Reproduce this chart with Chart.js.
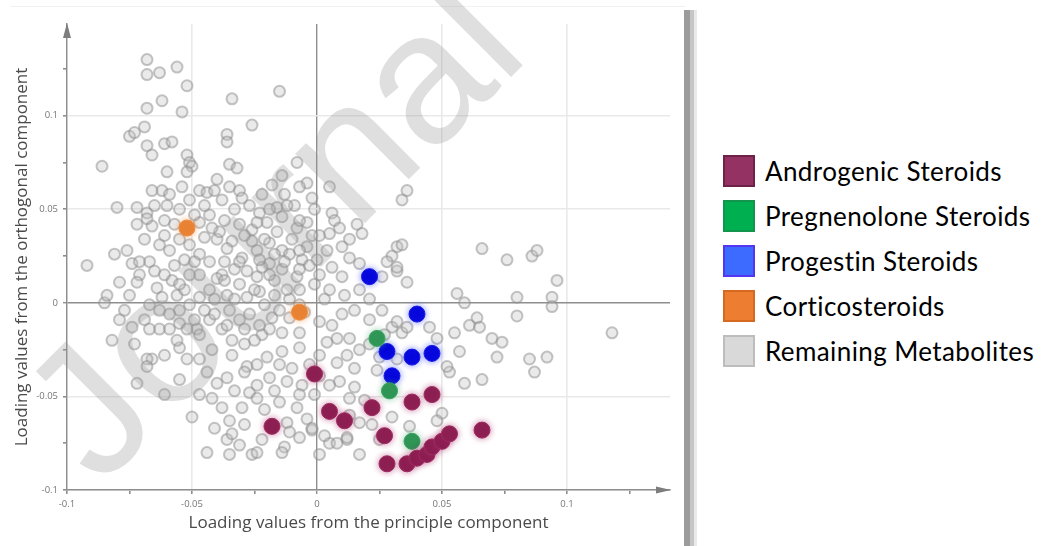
<!DOCTYPE html>
<html>
<head>
<meta charset="utf-8">
<script src="https://cdn.jsdelivr.net/npm/chart.js@4.4.1/dist/chart.umd.min.js"></script>
<style>
  html, body { margin: 0; padding: 0; background: #fff; width: 1044px; height: 546px; overflow: hidden; }
  #plot { position: absolute; left: 0; top: 0; width: 700px; height: 546px; filter: blur(0.7px); }
  #topline { position: absolute; left: 10px; top: 6px; width: 675px; height: 1px; background: #f1f1f1; }
  .bar { position: absolute; top: 10px; bottom: 0; }
  #legend { position: absolute; left: 723px; top: 155px; font-family: Lato, "Open Sans", sans-serif; font-size: 26px; letter-spacing: 0.4px; color: #000; }
  .item { display: flex; align-items: center; height: 32px; margin-bottom: 13px; white-space: nowrap; }
  .sw { width: 28px; height: 28px; border: 2px solid; margin-right: 10px; flex: none; }
</style>
</head>
<body>
<div id="topline"></div>
<div id="plot"><canvas id="c" width="700" height="546"></canvas></div>
<div class="bar" style="left:684px;width:6px;background:#9c9c9c"></div>
<div class="bar" style="left:690px;width:4px;background:#c6c6c6"></div>
<div class="bar" style="left:694px;width:3px;background:#e9e9e9"></div>
<div id="legend"></div>
<script>
// Loadings: [principle component, orthogonal component]
const androgenic = [
  [-0.001,-0.038],[-0.018,-0.066],[0.005,-0.058],[0.011,-0.063],[0.022,-0.056],[0.027,-0.071],
  [0.028,-0.086],[0.038,-0.053],[0.046,-0.049],[0.036,-0.086],[0.040,-0.083],[0.044,-0.081],
  [0.046,-0.077],[0.050,-0.074],[0.053,-0.070],[0.066,-0.068]
];
const pregnenolone = [[0.024,-0.019],[0.029,-0.047],[0.038,-0.074]];
const progestin = [[0.021,0.014],[0.040,-0.006],[0.028,-0.026],[0.038,-0.029],[0.046,-0.027],[0.030,-0.039]];
const corticosteroids = [[-0.052,0.040],[-0.007,-0.005]];
const remaining = [
  [-0.068,0.130],[-0.068,0.122],[-0.063,0.123],[-0.056,0.126],[-0.052,0.116],[-0.034,0.109],[-0.015,0.113],[-0.062,0.108],[-0.068,0.104],[-0.054,0.102],
  [-0.026,0.095],[-0.036,0.090],[-0.036,0.086],[-0.075,0.089],[-0.073,0.091],[-0.069,0.094],[-0.068,0.084],[-0.061,0.085],[-0.058,0.086],[-0.066,0.079],
  [-0.052,0.079],[-0.051,0.075],[-0.050,0.073],[-0.086,0.073],[-0.035,0.074],[-0.032,0.072],[-0.060,0.070],[-0.052,0.070],[-0.040,0.066],[-0.062,0.060],
  [-0.054,0.062],[-0.080,0.051],[-0.072,0.051],[-0.068,0.048],[-0.066,0.041],[-0.069,0.034],[-0.092,0.020],[-0.074,0.021],[-0.047,0.060],[-0.044,0.059],
  [-0.035,0.062],[-0.031,0.060],[-0.030,0.056],[-0.066,0.060],[0.036,0.060],[0.034,0.055],[-0.014,0.068],[-0.008,0.075],[-0.004,0.064],[0.005,0.062],
  [-0.002,0.056],[-0.007,0.062],[-0.016,0.051],[-0.023,0.048],[-0.020,0.043],[-0.014,0.046],[-0.004,0.043],[-0.008,0.040],[0.006,0.048],[0.007,0.044],
  [0.016,0.042],[0.018,0.037],[0.009,0.040],[0.013,0.034],[0.005,0.037],[0.032,0.030],[0.030,0.025],[0.028,0.022],[0.013,0.024],[0.017,0.021],
  [0.004,0.028],[0.000,0.023],[0.006,0.019],[0.010,0.014],[0.026,0.014],[0.032,0.017],[0.036,0.011],[-0.024,0.028],[-0.019,0.032],[-0.014,0.028],
  [-0.010,0.034],[-0.004,0.030],[-0.006,0.023],[-0.019,0.021],[-0.014,0.018],[-0.008,0.014],[-0.024,0.014],[0.010,0.030],[0.034,0.031],[0.032,0.019],
  [0.066,0.029],[0.076,0.023],[0.086,0.025],[0.088,0.028],[0.096,0.012],[0.056,0.005],[0.059,0.000],[0.080,0.003],[0.094,0.003],[0.094,-0.002],
  [0.064,-0.008],[0.061,-0.012],[0.065,-0.013],[0.080,-0.007],[0.055,-0.016],[0.070,-0.019],[0.074,-0.021],[0.057,-0.026],[0.072,-0.029],[0.085,-0.030],
  [0.092,-0.029],[0.087,-0.037],[0.053,-0.037],[0.059,-0.043],[0.066,-0.041],[0.118,-0.016],[0.052,-0.034],[0.050,-0.059],[0.048,-0.063],[0.030,-0.061],
  [0.037,-0.066],[0.012,-0.073],
  [-0.085,0.000],[-0.084,0.004],[-0.072,-0.043],[-0.066,-0.030],[-0.050,-0.061],[-0.044,-0.080],[-0.036,-0.073],[-0.034,-0.070],[-0.026,-0.081],[-0.013,-0.077],
  [-0.002,-0.068],[0.005,-0.075],[0.008,-0.075],[-0.055,-0.024],[-0.048,-0.014],[-0.068,-0.030],[-0.068,-0.034],[-0.052,-0.030],[-0.038,-0.056],[-0.030,-0.056],
  [-0.042,-0.051],[-0.028,-0.034],[-0.029,-0.037],[-0.036,-0.040],[-0.027,-0.048],[-0.040,-0.043],[-0.044,-0.037],[-0.063,-0.014],[-0.056,-0.020],[-0.074,-0.013],
  [-0.055,-0.011],[-0.042,-0.025],[-0.047,-0.017],
  [-0.068,0.045],[-0.040,0.034],[-0.039,0.038],[-0.047,0.043],[-0.043,0.047],[-0.067,0.022],[-0.065,0.017],[-0.071,0.015],[-0.072,0.011],[-0.075,0.004],
  [-0.064,0.008],[-0.062,0.003],[-0.056,0.004],[-0.034,0.033],[-0.030,0.024],[-0.026,0.033],[-0.028,0.017],[-0.031,0.010],[-0.038,0.015],[-0.040,0.013],
  [-0.036,0.004],[-0.028,0.003],[-0.047,0.015],
  [-0.023,0.006],[-0.018,-0.008],[-0.022,-0.017],[-0.014,-0.016],[-0.007,-0.016],[0.001,-0.010],[0.006,-0.012],[0.010,-0.006],[0.008,-0.019],[0.013,-0.019],
  [0.004,-0.021],[-0.007,-0.024],[-0.014,-0.026],[-0.020,-0.029],[-0.015,-0.033],[-0.010,-0.035],[0.008,-0.032],[0.015,-0.035],[0.009,-0.042],[0.005,-0.044],
  [-0.006,-0.044],[-0.012,-0.042],[-0.019,-0.040],[-0.024,-0.044],[-0.024,-0.051],[-0.015,-0.053],[-0.008,-0.056],[-0.004,-0.062],[-0.012,-0.064],[-0.002,-0.067],
  [-0.011,-0.069],[-0.007,-0.072],[0.003,-0.071],[0.012,-0.072],[0.017,-0.064],[0.019,-0.052],[0.013,-0.051],[0.015,-0.045],[0.024,-0.036],[0.025,-0.029],
  [0.032,-0.030],[0.034,-0.016],[0.030,-0.013],[0.036,-0.013],[0.032,-0.010],[0.045,-0.013],[0.048,-0.019],[-0.024,-0.080],[-0.014,-0.080],
  [-0.051,0.055],[-0.045,0.052],[-0.038,0.055],[-0.033,0.050],[-0.027,0.052],[-0.022,0.058],[-0.018,0.063],[-0.013,0.058],[-0.009,0.052],[-0.001,0.050],
  [0.001,0.036],[-0.003,0.020],[-0.007,0.007],[-0.001,0.010],[0.003,0.002],[-0.011,0.002],[-0.017,0.004],[-0.021,-0.001],[-0.027,-0.006],[-0.031,-0.009],
  [-0.035,-0.004],[-0.041,0.002],[-0.045,-0.004],[-0.051,-0.001],[-0.053,0.007],[-0.051,0.015],[-0.053,0.023],[-0.047,0.026],[-0.043,0.022],[-0.037,0.022],
  [-0.033,0.018],[-0.022,0.019],[-0.017,0.012],[-0.012,0.007],[-0.005,-0.005],[-0.011,-0.008],[-0.019,-0.014],[-0.025,-0.020],[-0.029,-0.022],[-0.034,-0.020],
  [-0.038,-0.014],[-0.043,-0.009],[-0.049,-0.009],[-0.055,-0.004],[-0.059,-0.006],[-0.063,-0.004],[-0.067,-0.001],[-0.069,-0.009],[-0.077,-0.004],[-0.079,0.011],
  [-0.081,0.026],[-0.063,0.031],[-0.059,0.028],[-0.057,0.020],[-0.058,0.012],[-0.051,0.031],[-0.045,0.035],[-0.052,0.039],[-0.057,0.042],[-0.061,0.036],
  [-0.055,0.050],[-0.060,0.052],[-0.041,0.060],[-0.037,0.044],[-0.031,0.042],[-0.026,0.039],[-0.021,0.034],[-0.016,0.038],[-0.011,0.026],[-0.007,0.018],
  [0.001,0.015],[0.005,0.007],[0.011,0.004],[0.017,0.007],[0.021,0.002],[0.015,-0.004],[0.021,-0.009],[0.026,-0.004],[0.027,-0.017],[0.021,-0.022],
  [0.017,-0.025],[0.012,-0.028],[0.001,-0.028],[-0.003,-0.033],[0.001,-0.039],[-0.001,-0.049],[-0.007,-0.049],[-0.017,-0.047],[-0.021,-0.057],[-0.018,-0.065],
  [-0.029,-0.065],[-0.035,-0.063],[-0.022,-0.073],[-0.031,-0.076],[0.013,-0.060],[0.022,-0.065],[0.025,-0.073],[0.017,-0.081],[0.001,-0.081],
  [-0.059,0.058],[-0.049,0.047],[-0.042,0.040],[-0.036,0.029],[-0.029,0.036],[-0.024,0.043],[-0.019,0.050],[-0.012,0.052],[-0.007,0.044],[-0.017,0.026],
  [-0.023,0.023],[-0.031,0.022],[-0.037,0.012],[-0.043,0.007],[-0.049,0.022],[-0.055,0.034],[-0.061,0.044],[-0.065,0.052],[-0.072,0.042],[-0.076,0.028],
  [-0.071,0.022],[-0.061,0.015],[-0.055,0.010],[-0.047,0.003],[-0.041,-0.006],[-0.033,0.002],[-0.025,0.007],[-0.019,0.015],[-0.013,0.022],[-0.007,0.028],
  [-0.002,0.036],[-0.007,-0.001],[-0.015,-0.004],[-0.023,-0.012],[-0.029,-0.014],[-0.036,-0.012],[-0.052,-0.014],[-0.059,-0.014],[-0.067,-0.014],[-0.079,-0.009],
  [-0.082,-0.020],[-0.073,-0.022],[-0.061,-0.028],[-0.047,-0.030],[-0.034,-0.028],[-0.024,-0.033],[-0.033,-0.047],[-0.047,-0.049],[-0.055,-0.041],[-0.061,-0.049],
  [-0.041,-0.067],[-0.035,-0.081]
];

const seriesNames = ['Androgenic Steroids', 'Pregnenolone Steroids', 'Progestin Steroids', 'Corticosteroids', 'Remaining Metabolites'];
const xTitle = 'Loading values from the principle component';
const yTitle = 'Loading values from the orthogonal component';
const xRange = [-0.1, 0.1412];
const yRange = [-0.1, 0.149];
const tickStep = 0.025;
const labelStep = 0.05;
const watermark = 'Journal';

const toPts = arr => arr.map(([x, y]) => ({ x, y }));

// point style, legend swatch fill / border for each series
const styles = [
  { point: '#8c1f52', edge: '#9b2d60', glow: 'rgba(170,40,100,0.55)', swatch: '#943263', swatchEdge: '#6e2248', r: 8 },
  { point: '#2f9656', edge: '#3aa062', glow: 'rgba(60,170,100,0.5)', swatch: '#00b050', swatchEdge: '#13954d', r: 8 },
  { point: '#0606dc', edge: '#1a1ae6', glow: 'rgba(40,60,255,0.55)', swatch: '#3d6bff', swatchEdge: '#5536f0', r: 8 },
  { point: '#e98233', edge: '#ef8c40', glow: 'rgba(240,140,60,0.55)', swatch: '#ed7d31', swatchEdge: '#d4691f', r: 8 },
  { point: 'rgba(190,190,190,0.33)', edge: 'rgba(140,140,140,0.5)', glow: null, swatch: '#d9d9d9', swatchEdge: '#bdbdbd', r: 5.5 }
];
const seriesData = [androgenic, pregnenolone, progestin, corticosteroids, remaining];

const datasets = seriesData.map((d, i) => ({
  label: seriesNames[i],
  data: toPts(d),
  backgroundColor: styles[i].point,
  borderColor: styles[i].edge,
  borderWidth: i === 4 ? 2 : 1,
  pointRadius: styles[i].r,
  glow: styles[i].glow
}));

// legend
const legend = document.getElementById('legend');
seriesNames.forEach((name, i) => {
  const row = document.createElement('div');
  row.className = 'item';
  const sw = document.createElement('div');
  sw.className = 'sw';
  sw.style.background = styles[i].swatch;
  sw.style.borderColor = styles[i].swatchEdge;
  const t = document.createElement('span');
  t.textContent = name;
  row.appendChild(sw); row.appendChild(t);
  legend.appendChild(row);
});

const isMultiple = (v, step) => Math.abs(v / step - Math.round(v / step)) < 1e-6;
const fmt = v => (Math.abs(v) < 1e-9 ? '0' : String(+v.toFixed(3)));
const AXIS = '#8e8e8e';

const gridFor = () => ({
  color: c => {
    const v = c.tick ? c.tick.value : NaN;
    if (Math.abs(v) < 1e-9) return AXIS;
    if (isMultiple(v, labelStep)) return '#e9e9e9';
    return 'rgba(0,0,0,0)';
  },
  lineWidth: c => (c.tick && Math.abs(c.tick.value) < 1e-9 ? 1.4 : 1.6),
  tickColor: AXIS,
  tickLength: 4,
  drawTicks: true
});

const decor = {
  id: 'decor',
  beforeDatasetDraw(chart, args) {
    const ds = chart.data.datasets[args.index];
    if (ds.glow) { const c = chart.ctx; c.save(); c.shadowColor = ds.glow; c.shadowBlur = 6; }
  },
  afterDatasetDraw(chart, args) {
    if (chart.data.datasets[args.index].glow) chart.ctx.restore();
  },
  afterDatasetsDraw(chart) {
    const c = chart.ctx;
    c.save();
    c.translate(100, 488);
    c.rotate(-Math.PI / 4);
    c.font = '186px "Liberation Sans", Arial, sans-serif';
    c.fillStyle = 'rgba(150,150,150,0.3)';
    c.fillText(watermark, 0, 0);
    c.restore();
  },
  afterDraw(chart) {
    const c = chart.ctx;
    const { left, top, right, bottom } = chart.chartArea;
    c.save();
    c.fillStyle = '#7d7d7d';
    c.beginPath(); c.moveTo(left, top - 1); c.lineTo(left - 4, top + 14); c.lineTo(left + 4, top + 14); c.closePath(); c.fill();
    c.beginPath(); c.moveTo(right + 1, bottom); c.lineTo(right - 14, bottom - 3.5); c.lineTo(right - 14, bottom + 3.5); c.closePath(); c.fill();
    c.restore();
  }
};

new Chart(document.getElementById('c'), {
  type: 'scatter',
  data: { datasets },
  plugins: [decor],
  options: {
    responsive: false,
    animation: false,
    events: [],
    layout: { padding: { top: 24, right: 30, bottom: 0, left: 0 } },
    plugins: { legend: { display: false }, tooltip: { enabled: false } },
    scales: {
      x: {
        type: 'linear', min: xRange[0], max: xRange[1],
        afterFit: s => { s.height = 56; },
        border: { display: true, color: AXIS, width: 1.4 },
        grid: gridFor(),
        ticks: {
          stepSize: tickStep, includeBounds: false, autoSkip: false, maxRotation: 0,
          padding: 5, color: '#767676', font: { family: 'Open Sans', size: 9.5 },
          callback: v => (isMultiple(v, labelStep) ? fmt(v) : '')
        },
        title: { display: true, text: xTitle, color: '#4a4a4a', font: { family: 'Open Sans', size: 17 }, padding: { top: 0, bottom: 13 } }
      },
      y: {
        type: 'linear', min: yRange[0], max: yRange[1],
        afterFit: s => { s.width = 67; },
        border: { display: true, color: AXIS, width: 1.4 },
        grid: gridFor(),
        ticks: {
          stepSize: tickStep, includeBounds: false, autoSkip: false,
          padding: 5, color: '#767676', font: { family: 'Open Sans', size: 9.5 },
          callback: v => (isMultiple(v, labelStep) ? fmt(v) : '')
        },
        title: { display: true, text: yTitle, color: '#4a4a4a', font: { family: 'Open Sans', size: 17 }, padding: { top: 12, bottom: 0 } }
      }
    }
  }
});
</script>
</body>
</html>
